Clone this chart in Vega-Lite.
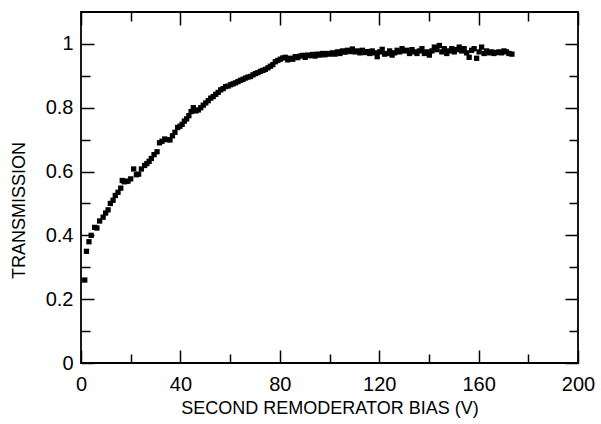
{
  "$schema": "https://vega.github.io/schema/vega-lite/v6.json",
  "width": 497,
  "height": 351,
  "autosize": "none",
  "padding": {"left": 81, "top": 12, "right": 23, "bottom": 61},
  "background": "white",
  "config": {
    "view": {"stroke": "black", "strokeWidth": 1.8},
    "axis": {
      "domain": false,
      "grid": false,
      "tickColor": "black",
      "tickWidth": 1.5,
      "labelFont": "Liberation Sans",
      "labelFontSize": 20,
      "labelColor": "black",
      "titleFont": "Liberation Sans",
      "titleFontSize": 18,
      "titleFontWeight": "normal",
      "titleColor": "black"
    }
  },
  "data": {
    "values": [
      {"v": 1.5, "t": 0.26}, {"v": 2.2, "t": 0.35}, {"v": 3.2, "t": 0.38}, {"v": 4.1, "t": 0.4},
      {"v": 5.5, "t": 0.425}, {"v": 6.4, "t": 0.423}, {"v": 7.5, "t": 0.445}, {"v": 8.9, "t": 0.457},
      {"v": 9.9, "t": 0.47}, {"v": 10.9, "t": 0.48}, {"v": 11.8, "t": 0.5}, {"v": 12.9, "t": 0.51},
      {"v": 13.8, "t": 0.525}, {"v": 14.9, "t": 0.535}, {"v": 16.0, "t": 0.548}, {"v": 16.6, "t": 0.572},
      {"v": 17.4, "t": 0.568}, {"v": 18.2, "t": 0.569}, {"v": 18.9, "t": 0.57}, {"v": 20.0, "t": 0.577},
      {"v": 21.2, "t": 0.608}, {"v": 22.3, "t": 0.59}, {"v": 23.2, "t": 0.592}, {"v": 24.3, "t": 0.608},
      {"v": 25.6, "t": 0.619}, {"v": 26.5, "t": 0.625}, {"v": 27.4, "t": 0.632}, {"v": 28.3, "t": 0.641},
      {"v": 29.4, "t": 0.653}, {"v": 30.6, "t": 0.662}, {"v": 31.6, "t": 0.69}, {"v": 32.6, "t": 0.695},
      {"v": 33.7, "t": 0.702}, {"v": 34.7, "t": 0.7}, {"v": 35.8, "t": 0.699}, {"v": 36.8, "t": 0.712},
      {"v": 37.8, "t": 0.723}, {"v": 38.9, "t": 0.738}, {"v": 39.8, "t": 0.742}, {"v": 40.7, "t": 0.748},
      {"v": 41.6, "t": 0.758}, {"v": 42.5, "t": 0.765}, {"v": 43.4, "t": 0.775}, {"v": 44.3, "t": 0.788},
      {"v": 45.2, "t": 0.8}, {"v": 46.2, "t": 0.79}, {"v": 47.2, "t": 0.793}, {"v": 48.2, "t": 0.8},
      {"v": 49.2, "t": 0.808}, {"v": 50.2, "t": 0.815}, {"v": 51.2, "t": 0.822}, {"v": 52.2, "t": 0.83},
      {"v": 53.2, "t": 0.835}, {"v": 54.2, "t": 0.842}, {"v": 55.2, "t": 0.848}, {"v": 56.2, "t": 0.856},
      {"v": 57.2, "t": 0.86}, {"v": 58.2, "t": 0.866}, {"v": 59.2, "t": 0.868}, {"v": 60.2, "t": 0.872},
      {"v": 61.2, "t": 0.875}, {"v": 62.2, "t": 0.878}, {"v": 63.2, "t": 0.882}, {"v": 64.2, "t": 0.886},
      {"v": 65.2, "t": 0.889}, {"v": 66.2, "t": 0.893}, {"v": 67.2, "t": 0.896}, {"v": 68.2, "t": 0.898},
      {"v": 69.2, "t": 0.903}, {"v": 70.2, "t": 0.907}, {"v": 71.2, "t": 0.91}, {"v": 72.2, "t": 0.914},
      {"v": 73.2, "t": 0.917}, {"v": 74.2, "t": 0.92}, {"v": 75.2, "t": 0.925}, {"v": 76.2, "t": 0.93},
      {"v": 77.2, "t": 0.935}, {"v": 78.2, "t": 0.944}, {"v": 79.2, "t": 0.948}, {"v": 80.2, "t": 0.952},
      {"v": 81.2, "t": 0.956}, {"v": 82.2, "t": 0.958}, {"v": 83.2, "t": 0.95}, {"v": 84.2, "t": 0.955},
      {"v": 85.2, "t": 0.952}, {"v": 86.2, "t": 0.96}, {"v": 87.2, "t": 0.957}, {"v": 88.2, "t": 0.962},
      {"v": 89.2, "t": 0.964}, {"v": 90.2, "t": 0.958}, {"v": 91.2, "t": 0.965}, {"v": 92.2, "t": 0.963},
      {"v": 93.2, "t": 0.967}, {"v": 94.2, "t": 0.962}, {"v": 95.2, "t": 0.968}, {"v": 96.2, "t": 0.965},
      {"v": 97.2, "t": 0.97}, {"v": 98.2, "t": 0.966}, {"v": 99.2, "t": 0.97}, {"v": 100.2, "t": 0.968},
      {"v": 101.2, "t": 0.972}, {"v": 102.2, "t": 0.968}, {"v": 103.2, "t": 0.975}, {"v": 104.2, "t": 0.97},
      {"v": 105.2, "t": 0.978}, {"v": 106.2, "t": 0.974}, {"v": 107.2, "t": 0.98}, {"v": 108.2, "t": 0.976},
      {"v": 109.2, "t": 0.984}, {"v": 110.2, "t": 0.975}, {"v": 111.2, "t": 0.978}, {"v": 112.2, "t": 0.972},
      {"v": 113.2, "t": 0.98}, {"v": 114.2, "t": 0.973}, {"v": 115.2, "t": 0.976}, {"v": 116.2, "t": 0.97},
      {"v": 117.2, "t": 0.978}, {"v": 118.2, "t": 0.972}, {"v": 119.2, "t": 0.96}, {"v": 120.2, "t": 0.975},
      {"v": 121.2, "t": 0.983}, {"v": 122.2, "t": 0.968}, {"v": 123.2, "t": 0.97}, {"v": 124.2, "t": 0.978},
      {"v": 125.2, "t": 0.965}, {"v": 126.2, "t": 0.972}, {"v": 127.2, "t": 0.98}, {"v": 128.2, "t": 0.975},
      {"v": 129.2, "t": 0.985}, {"v": 130.2, "t": 0.978}, {"v": 131.2, "t": 0.98}, {"v": 132.2, "t": 0.97},
      {"v": 133.2, "t": 0.982}, {"v": 134.2, "t": 0.975}, {"v": 135.2, "t": 0.97}, {"v": 136.2, "t": 0.978},
      {"v": 137.2, "t": 0.985}, {"v": 138.2, "t": 0.97}, {"v": 139.2, "t": 0.975}, {"v": 140.2, "t": 0.965},
      {"v": 141.2, "t": 0.978}, {"v": 142.2, "t": 0.99}, {"v": 143.2, "t": 0.982}, {"v": 144.2, "t": 0.995},
      {"v": 145.2, "t": 0.975}, {"v": 146.2, "t": 0.985}, {"v": 147.2, "t": 0.97}, {"v": 148.2, "t": 0.978},
      {"v": 149.2, "t": 0.985}, {"v": 150.2, "t": 0.975}, {"v": 151.2, "t": 0.982}, {"v": 152.2, "t": 0.99},
      {"v": 153.2, "t": 0.978}, {"v": 154.2, "t": 0.985}, {"v": 155.2, "t": 0.972}, {"v": 156.2, "t": 0.958},
      {"v": 157.2, "t": 0.98}, {"v": 158.2, "t": 0.985}, {"v": 159.2, "t": 0.955}, {"v": 160.2, "t": 0.975},
      {"v": 161.2, "t": 0.99}, {"v": 162.2, "t": 0.97}, {"v": 163.2, "t": 0.978}, {"v": 164.2, "t": 0.972},
      {"v": 165.2, "t": 0.975}, {"v": 166.2, "t": 0.97}, {"v": 167.2, "t": 0.973}, {"v": 168.2, "t": 0.975},
      {"v": 169.2, "t": 0.972}, {"v": 170.2, "t": 0.978}, {"v": 171.2, "t": 0.975}, {"v": 172.2, "t": 0.97},
      {"v": 173.4, "t": 0.968}
    ]
  },
  "resolve": {
    "scale": {"x": "shared", "y": "shared"},
    "axis": {"x": "independent", "y": "independent"}
  },
  "layer": [
    {
      "mark": {"type": "square", "color": "black", "filled": true, "opacity": 1, "size": 28},
      "encoding": {
        "x": {
          "field": "v", "type": "quantitative",
          "scale": {"domain": [0, 200], "nice": false, "zero": false},
          "axis": {
            "orient": "bottom", "values": [0, 40, 80, 120, 160, 200],
            "tickSize": -13, "labelPadding": 24, "labelFlush": false,
            "title": "SECOND REMODERATOR BIAS (V)", "titlePadding": 5, "titleColor": "black"
          }
        },
        "y": {
          "field": "t", "type": "quantitative",
          "scale": {"domain": [0, 1.1], "nice": false, "zero": false},
          "axis": {
            "orient": "left", "values": [0, 0.2, 0.4, 0.6, 0.8, 1],
            "labelExpr": "format(datum.value, '~g')",
            "tickSize": -13, "labelPadding": 21, "labelFlush": false,
            "title": "TRANSMISSION", "titlePadding": 17, "titleY": 198, "titleColor": "black"
          }
        }
      }
    },
    {
      "mark": {"type": "square", "opacity": 0},
      "encoding": {
        "x": {"field": "v", "type": "quantitative",
          "axis": {"orient": "top", "values": [0, 40, 80, 120, 160, 200], "tickSize": -13, "labels": false, "title": null}},
        "y": {"field": "t", "type": "quantitative",
          "axis": {"orient": "right", "values": [0, 0.2, 0.4, 0.6, 0.8, 1], "tickSize": -13, "labels": false, "title": null}}
      }
    },
    {
      "mark": {"type": "square", "opacity": 0},
      "encoding": {
        "x": {"field": "v", "type": "quantitative",
          "axis": {"orient": "bottom", "values": [20, 60, 100, 140, 180], "tickSize": -9, "labels": false, "title": null}},
        "y": {"field": "t", "type": "quantitative",
          "axis": {"orient": "left", "values": [0.1, 0.3, 0.5, 0.7, 0.9], "tickSize": -9, "labels": false, "title": null}}
      }
    },
    {
      "mark": {"type": "square", "opacity": 0},
      "encoding": {
        "x": {"field": "v", "type": "quantitative",
          "axis": {"orient": "top", "values": [20, 60, 100, 140, 180], "tickSize": -9, "labels": false, "title": null}},
        "y": {"field": "t", "type": "quantitative",
          "axis": {"orient": "right", "values": [0.1, 0.3, 0.5, 0.7, 0.9], "tickSize": -9, "labels": false, "title": null}}
      }
    }
  ]
}
